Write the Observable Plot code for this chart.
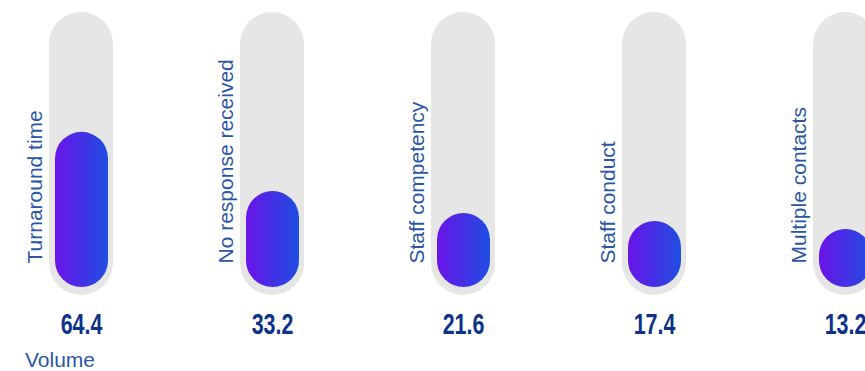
<!DOCTYPE html>
<html>
<head>
<meta charset="utf-8">
<script src="https://cdn.jsdelivr.net/npm/d3@7"></script>
<script src="https://cdn.jsdelivr.net/npm/@observablehq/plot@0.6"></script>
<style>
  html, body { margin: 0; padding: 0; background: #ffffff; }
  #chart svg { display: block; }
  .unit {
    font-family: "Liberation Sans", Arial, sans-serif;
    font-size: 21px;
    line-height: 24px;
    color: #2b56a6;
    padding-left: 25px;
  }
</style>
</head>
<body>
<div id="chart"></div>
<div class="unit">Volume</div>
<script>
// Complaint categories and their volumes
const categories = ["Turnaround time", "No response received", "Staff competency", "Staff conduct", "Multiple contacts"];
const values = [64.4, 33.2, 21.6, 17.4, 13.2];
// Upper end of the grey track behind each bar
const trackMax = 145;

const rows = categories.map((category, i) => ({category, value: values[i]}));

const labelFont = '"Liberation Sans", Arial, sans-serif';
const valueFont = '"Liberation Sans", Arial, sans-serif';

const chart = Plot.plot({
  width: 865,
  height: 348,
  margin: 0,
  x: {domain: categories, range: [49, 877], paddingInner: 0.665, paddingOuter: 0, align: 0, axis: null},
  y: {domain: [0, trackMax], range: [287, 12], axis: null},
  marks: [
    // grey track
    Plot.barY(rows, {x: "category", y1: () => 0, y2: () => trackMax, fill: "#e6e6e6", rx: 32, insetBottom: -8}),
    // value bar with gradient fill
    Plot.barY(rows, {x: "category", y1: () => 0, y2: "value", fill: "url(#barGradient)", rx: 26.5,
      insetLeft: 6, insetRight: 5, insetTop: -33}),
    // rotated category labels
    Plot.text(rows, {x: "category", y: () => 0, text: "category", rotate: -90, textAnchor: "start",
      lineAnchor: "middle", dx: -46, dy: -24, fontSize: 21, fontFamily: labelFont, fill: "#2b56a6"}),
    // value labels
    Plot.text(rows, {x: "category", y: () => 0, text: d => d.value.toFixed(1), dy: 37,
      fontSize: 29, fontWeight: "bold", fontFamily: valueFont, fill: "#0c3388"})
  ]
});

// horizontal purple-to-blue gradient used by the value bars
const ns = "http://www.w3.org/2000/svg";
const defs = document.createElementNS(ns, "defs");
const grad = document.createElementNS(ns, "linearGradient");
grad.setAttribute("id", "barGradient");
grad.setAttribute("x1", "0"); grad.setAttribute("x2", "1");
grad.setAttribute("y1", "0"); grad.setAttribute("y2", "0");
[["0%", "#6a14e8"], ["100%", "#1e4ee2"]].forEach(([offset, color]) => {
  const stop = document.createElementNS(ns, "stop");
  stop.setAttribute("offset", offset);
  stop.setAttribute("stop-color", color);
  grad.appendChild(stop);
});
defs.appendChild(grad);
chart.insertBefore(defs, chart.firstChild);

// condense the value labels horizontally
const textGroups = chart.querySelectorAll('g[aria-label="text"]');
const valueGroup = textGroups[textGroups.length - 1];
valueGroup.querySelectorAll("text").forEach(t => {
  const tr = t.getAttribute("transform");
  if (tr) {
    t.setAttribute("transform", tr + " scale(0.74,1)");
  } else {
    const x = +t.getAttribute("x") || 0, y = +t.getAttribute("y") || 0;
    t.removeAttribute("x"); t.removeAttribute("y");
    t.setAttribute("transform", `translate(${x},${y}) scale(0.74,1)`);
  }
});

document.getElementById("chart").appendChild(chart);
</script>
</body>
</html>
